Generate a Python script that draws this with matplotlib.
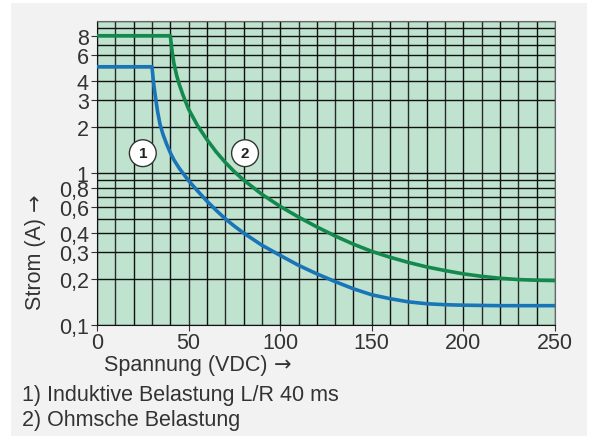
import matplotlib
matplotlib.use("Agg")
import matplotlib.pyplot as plt
from matplotlib.patches import Rectangle
from matplotlib.ticker import FixedLocator, NullFormatter

plt.rcParams['font.family'] = ['Liberation Sans', 'DejaVu Sans']

# curve 1: inductive load L/R 40 ms
v_ind = [0, 30, 31, 32, 33, 34.4, 36, 38, 40, 42, 45, 50, 55, 60, 65, 70, 75, 80, 90,
         100, 110, 120, 130, 140, 150, 160, 170, 180, 190, 200, 220, 250]
i_ind = [5.0, 5.0, 3.8, 3.1, 2.57, 2.09, 1.8, 1.55, 1.36, 1.22, 1.07, 0.89, 0.76, 0.653,
         0.569, 0.50, 0.447, 0.403, 0.335, 0.287, 0.247, 0.217, 0.193, 0.173, 0.158,
         0.149, 0.142, 0.138, 0.136, 0.135, 0.134, 0.134]

# curve 2: ohmic load
v_ohm = [0, 40, 41, 42, 43.5, 45, 47, 50, 55, 60, 65, 70, 75, 80, 90, 100, 110, 120,
         130, 140, 150, 160, 170, 180, 190, 200, 210, 220, 230, 240, 250]
i_ohm = [8.0, 8.0, 6.3, 5.25, 4.37, 3.8, 3.24, 2.63, 2.04, 1.66, 1.38, 1.175, 1.02, 0.90,
         0.724, 0.603, 0.513, 0.442, 0.385, 0.34, 0.305, 0.279, 0.258, 0.241, 0.228,
         0.217, 0.209, 0.203, 0.199, 0.197, 0.196]

x_ticks = [0, 50, 100, 150, 200, 250]
y_ticks = [0.1, 0.2, 0.3, 0.4, 0.6, 0.8, 1, 2, 3, 4, 6, 8]
y_labels = ["0,1", "0,2", "0,3", "0,4", "0,6", "0,8", "1", "2", "3", "4", "6", "8"]
y_grid = [0.1 * k for k in range(1, 10)] + [1.0 * k for k in range(1, 11)]
x_grid = list(range(0, 251, 10))

fig = plt.figure(figsize=(5.92, 4.39), dpi=100, facecolor='white')
fig.patches.append(Rectangle((11 / 592, 2 / 439), 576 / 592, 433 / 439,
                             transform=fig.transFigure, facecolor='#f2f2f2',
                             edgecolor='none', zorder=-10))

ax = fig.add_axes([97 / 592, 1 - 326 / 439, 458 / 592, 304 / 439])
ax.set_facecolor('#bfe3cf')
ax.set_yscale('log')
ax.set_xlim(0, 250)
ax.set_ylim(0.1, 10)

for x in x_grid:
    ax.axvline(x, color='#2a2a2a' if x % 20 else '#111111', lw=1.0, zorder=1)
for y in y_grid:
    ax.axhline(y, color='#111111', lw=1.0, zorder=1)

ax.plot(v_ind, i_ind, color='#1a74b8', lw=2.6, zorder=3, solid_capstyle='butt',
        solid_joinstyle='round')
ax.plot(v_ohm, i_ohm, color='#13894d', lw=2.6, zorder=3, solid_capstyle='butt',
        solid_joinstyle='round')

for txt, xv in [("1", 25), ("2", 80.8)]:
    ax.text(xv, 1.35, txt, ha='center', va='center', fontsize=11, fontweight='bold',
            color='#222222', zorder=4,
            bbox=dict(boxstyle='circle,pad=0.42', facecolor='white', edgecolor='#333333', lw=1.0))

ax.set_xticks(x_ticks)
ax.set_xticklabels([str(v) for v in x_ticks])
ax.yaxis.set_major_locator(FixedLocator(y_ticks))
ax.yaxis.set_minor_locator(FixedLocator([]))
ax.yaxis.set_minor_formatter(NullFormatter())
ax.set_yticklabels(y_labels)
ax.tick_params(axis='both', labelsize=15.5, colors='#333333', length=4, width=0.8, pad=1)
ax.tick_params(axis='y', pad=2)

for side in ['left', 'bottom']:
    ax.spines[side].set_color('#111111')
for side in ['top', 'right']:
    ax.spines[side].set_color('#666666')

# axis labels, arrows drawn in DejaVu Sans (fuller arrow glyph)
fig.text(35 / 592, 1 - 264 / 439, "Strom (A)", rotation=90, ha='center', va='center',
         fontsize=15.5, color='#333333')
fig.text(35 / 592, 1 - 202 / 439, "→", rotation=90, ha='center', va='center',
         fontsize=15, color='#333333', family='DejaVu Sans')
fig.text(104 / 592, 1 - 366 / 439, "Spannung (VDC)", ha='left', va='center',
         fontsize=15.5, color='#333333')
fig.text(283 / 592, 1 - 365 / 439, "→", ha='center', va='center',
         fontsize=15, color='#333333', family='DejaVu Sans')
fig.text(22 / 592, 1 - 396 / 439, "1) Induktive Belastung L/R 40 ms", ha='left', va='center',
         fontsize=15.5, color='#333333')
fig.text(22 / 592, 1 - 421 / 439, "2) Ohmsche Belastung", ha='left', va='center',
         fontsize=15.5, color='#333333')

fig.savefig("out.png", dpi=100, facecolor=fig.get_facecolor())
